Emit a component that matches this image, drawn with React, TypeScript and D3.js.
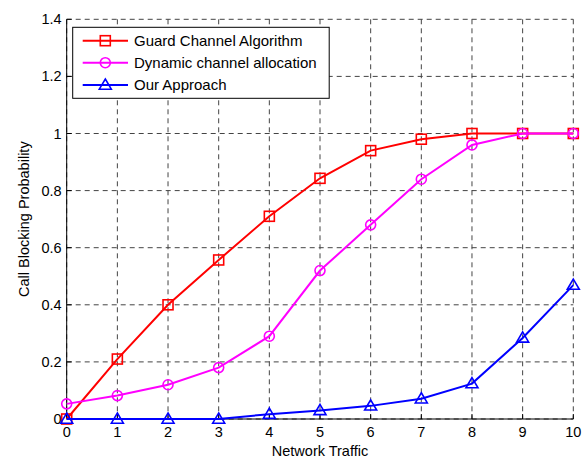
import React from "react";
import * as d3 from "d3";

const traffic = [0, 1, 2, 3, 4, 5, 6, 7, 8, 9, 10];
const guardChannel = [0, 0.21, 0.4, 0.557, 0.71, 0.843, 0.94, 0.98, 1.0, 1.0, 1.0];
const dynamicAllocation = [0.053, 0.082, 0.12, 0.18, 0.29, 0.52, 0.68, 0.84, 0.96, 1.0, 1.0];
const ourApproach = [0, 0, 0, 0, 0.017, 0.03, 0.046, 0.071, 0.124, 0.284, 0.469];
const xTicks = [0, 1, 2, 3, 4, 5, 6, 7, 8, 9, 10];
const yTicks = [0, 0.2, 0.4, 0.6, 0.8, 1, 1.2, 1.4];
const seriesNames = ["Guard Channel Algorithm", "Dynamic channel allocation", "Our Approach"];
const seriesColors = ["#ff0000", "#ff00ff", "#0000ff"];
const seriesMarkers = ["square", "circle", "triangle"];

const W = 584, H = 457;
const L = 66.7, R = 573.3, T = 19.3, B = 419;

function Marker({ type, x, y, color }: { type: string; x: number; y: number; color: string }) {
  if (type === "square") return <rect x={x - 5} y={y - 5} width={10} height={10} fill="none" stroke={color} strokeWidth={1.6} />;
  if (type === "circle") return <circle cx={x} cy={y} r={5} fill="none" stroke={color} strokeWidth={1.6} />;
  const s = 6;
  return <path d={`M${x},${y - s} L${x + s},${y + s * 0.7} L${x - s},${y + s * 0.7} Z`} fill="none" stroke={color} strokeWidth={1.6} />;
}

export default function App() {
  const x = d3.scaleLinear().domain([0, 10]).range([L, R]);
  const y = d3.scaleLinear().domain([0, 1.4]).range([B, T]);
  const data = [guardChannel, dynamicAllocation, ourApproach];
  const line = d3.line<number>().x((_, i) => x(traffic[i])).y((d) => y(d));
  const font = "'Liberation Sans', Arial, sans-serif";
  const legX = 72.7, legY = 27.3, legW = 256.5, legH = 71;
  const rowY = [40.7, 62.7, 85];
  return (
    <svg width={W} height={H} style={{ position: "absolute", left: 0, top: 0, background: "#fff" }} fontFamily={font}>
      <rect x={0} y={0} width={W} height={H} fill="#fff" />
      {xTicks.map((t) => (
        <line key={"gx" + t} x1={x(t)} x2={x(t)} y1={T} y2={B} stroke="#444" strokeWidth={1} strokeDasharray="5,4" />
      ))}
      {yTicks.map((t) => (
        <line key={"gy" + t} x1={L} x2={R} y1={y(t)} y2={y(t)} stroke="#444" strokeWidth={1} strokeDasharray="5,4" />
      ))}
      <line x1={L} x2={L} y1={T} y2={B} stroke="#000" strokeWidth={1} />
      <line x1={L} x2={R} y1={B} y2={B} stroke="#000" strokeWidth={1} />
      {xTicks.map((t) => (
        <g key={"tx" + t}>
          <line x1={x(t)} x2={x(t)} y1={B} y2={B - 5} stroke="#000" />
          <text x={x(t)} y={B + 18} textAnchor="middle" fontSize={14.5} fill="#000">{t}</text>
        </g>
      ))}
      {yTicks.map((t) => (
        <g key={"ty" + t}>
          <line x1={L} x2={L + 5} y1={y(t)} y2={y(t)} stroke="#000" />
          <text x={L - 5} y={y(t) + 5} textAnchor="end" fontSize={14.5} fill="#000">{t === 0 ? "0" : String(t)}</text>
        </g>
      ))}
      {data.map((d, k) => (
        <g key={"s" + k}>
          <path d={line(d) || ""} fill="none" stroke={seriesColors[k]} strokeWidth={2} />
          {d.map((v, i) => (
            <Marker key={i} type={seriesMarkers[k]} x={x(traffic[i])} y={y(v)} color={seriesColors[k]} />
          ))}
        </g>
      ))}
      <text x={(L + R) / 2} y={455.5} textAnchor="middle" fontSize={14.5} fill="#000">Network Traffic</text>
      <text transform={`translate(29,${(T + B) / 2}) rotate(-90)`} textAnchor="middle" fontSize={14.5} fill="#000">Call Blocking Probability</text>
      <rect x={legX} y={legY} width={legW} height={legH} fill="#fff" stroke="#000" strokeWidth={1} />
      {seriesNames.map((n, k) => (
        <g key={"l" + k}>
          <line x1={82.7} x2={128} y1={rowY[k]} y2={rowY[k]} stroke={seriesColors[k]} strokeWidth={2} />
          <Marker type={seriesMarkers[k]} x={105.3} y={rowY[k]} color={seriesColors[k]} />
          <text x={134} y={rowY[k] + 5} fontSize={15} fill="#000">{n}</text>
        </g>
      ))}
    </svg>
  );
}
